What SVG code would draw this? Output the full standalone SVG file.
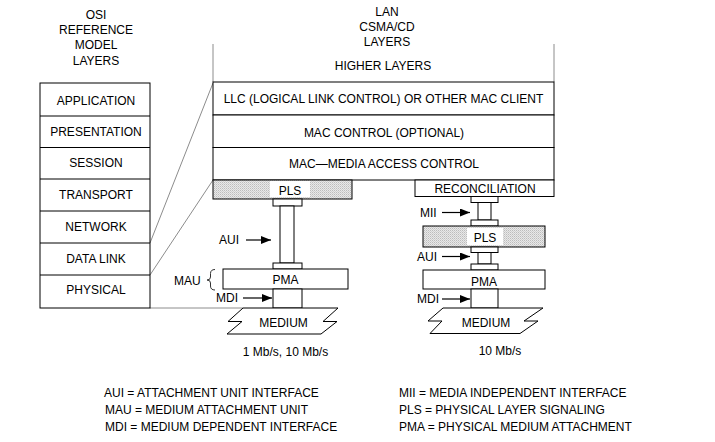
<svg xmlns="http://www.w3.org/2000/svg" width="715" height="442" viewBox="0 0 715 442">
<style>
text{font-family:"Liberation Sans",Arial,sans-serif;font-size:12px;fill:#000}
.c{text-anchor:middle}
.box{fill:#fff;stroke:#000;stroke-width:1}
.shade{fill:url(#dots);stroke:#000;stroke-width:1}
.map{stroke:#8c8c8c;stroke-width:1;fill:none}
.ln{stroke:#000;stroke-width:1;fill:none}
.arr{stroke:#000;stroke-width:1.2;fill:none;marker-end:url(#ah)}
</style>
<defs>
<pattern id="dots" width="2" height="2" patternUnits="userSpaceOnUse">
<rect width="2" height="2" fill="#e8e8e8"/>
<rect width="1" height="1" fill="#bcbcbc"/>
<rect x="1" y="1" width="1" height="1" fill="#d0d0d0"/>
</pattern>
<marker id="ah" markerWidth="10" markerHeight="8" refX="10" refY="4" orient="auto" markerUnits="userSpaceOnUse">
<path d="M0,0 L10,4 L0,8 Z" fill="#000"/>
</marker>
</defs>
<rect width="715" height="442" fill="#fff"/>

<g id="osi-header">
<text class="c" x="96" y="18.5">OSI</text>
<text class="c" x="96" y="34">REFERENCE</text>
<text class="c" x="96" y="49">MODEL</text>
<text class="c" x="96" y="64.5">LAYERS</text>
</g>
<g id="lan-header">
<text class="c" x="387" y="16">LAN</text>
<text class="c" x="387" y="31">CSMA/CD</text>
<text class="c" x="387" y="46">LAYERS</text>
</g>

<g id="connectors">
<path class="map" d="M213,44 V82 M554,44 V82"/>
<path class="map" d="M150,243 L213,83"/>
<path class="map" d="M150,275 L213,180"/>
<path class="map" d="M150,308 H243"/>
<path class="arr" d="M246,240 H271"/>
<path class="arr" d="M243,298 H272"/>
<path class="arr" d="M442,212.5 H470"/>
<path class="arr" d="M442,256.5 H470"/>
<path class="arr" d="M442,299 H470"/>
<path d="M215,269.5 Q210.5,269.5 210.5,273.5 L210.5,277 Q210.5,280 207,280 Q210.5,280 210.5,283 L210.5,286 Q210.5,290 215,290" fill="none" stroke="#333" stroke-width="1"/>
</g>

<g id="osi-stack">
<rect class="box" x="40" y="83" width="110" height="225" stroke-width="1.3"/>
<path class="ln" d="M40,116 H150 M40,147.5 H150 M40,179 H150 M40,211 H150 M40,243 H150 M40,275 H150"/>
</g>
<g id="application"><text class="c" x="96" y="105">APPLICATION</text></g>
<g id="presentation"><text class="c" x="96" y="136">PRESENTATION</text></g>
<g id="session"><text class="c" x="96" y="167">SESSION</text></g>
<g id="transport"><text class="c" x="96" y="199.3">TRANSPORT</text></g>
<g id="network"><text class="c" x="96" y="231">NETWORK</text></g>
<g id="datalink"><text class="c" x="96" y="262.6">DATA LINK</text></g>
<g id="physical"><text class="c" x="96" y="294.3">PHYSICAL</text></g>

<g id="higher-layers"><text class="c" x="383" y="69.6">HIGHER LAYERS</text></g>
<g id="llc">
<rect class="box" x="213" y="82" width="341" height="33"/>
<text class="c" x="383.5" y="103">LLC (LOGICAL LINK CONTROL) OR OTHER MAC CLIENT</text>
</g>
<g id="mac-control">
<rect class="box" x="213" y="115" width="341" height="32.5"/>
<text class="c" x="384" y="137.4">MAC CONTROL (OPTIONAL)</text>
</g>
<g id="mac">
<rect class="box" x="213" y="147.5" width="341" height="32.5"/>
<text class="c" x="384" y="167.6">MAC—MEDIA ACCESS CONTROL</text>
</g>

<g id="pls-left">
<rect class="shade" x="213" y="180" width="139" height="19"/>
<rect x="270" y="181" width="40" height="16" fill="#fff"/>
<text class="c" x="290" y="195">PLS</text>
</g>
<g id="aui-left">
<rect class="box" x="273" y="199" width="29" height="7"/>
<rect class="box" x="280" y="206" width="14" height="57" stroke-width="1.3"/>
<rect class="box" x="273" y="263" width="29" height="6"/>
<text x="219" y="244.3">AUI</text>
</g>
<g id="mau-label"><text x="174" y="284.5">MAU</text></g>
<g id="pma-left">
<rect class="box" x="223" y="269" width="125" height="20"/>
<text class="c" x="285.5" y="284.3">PMA</text>
</g>
<g id="mdi-left">
<rect class="box" x="273" y="289" width="29" height="19"/>
<text x="216" y="302.3">MDI</text>
</g>
<g id="medium-left">
<path class="box" d="M243,308 L228,321.5 L242,321.5 L227,334 L321,334 L337,321.5 L323,321.5 L338,308 Z"/>
<text class="c" x="283.5" y="327">MEDIUM</text>
<text class="c" x="285.5" y="356">1 Mb/s, 10 Mb/s</text>
</g>

<g id="reconciliation">
<rect class="box" x="415" y="180" width="139" height="16.5"/>
<text class="c" x="485" y="192.6">RECONCILIATION</text>
</g>
<g id="mii">
<rect class="box" x="471" y="196.5" width="27" height="6"/>
<rect class="box" x="478" y="202.5" width="13" height="17.5"/>
<rect class="box" x="471" y="220" width="27" height="6"/>
<text x="420" y="217">MII</text>
</g>
<g id="pls-right">
<rect class="shade" x="423" y="226" width="122" height="21"/>
<rect x="467" y="228" width="36" height="17" fill="#fff"/>
<text class="c" x="485" y="242">PLS</text>
</g>
<g id="aui-right">
<rect class="box" x="471" y="247" width="27" height="5.5"/>
<rect class="box" x="478" y="252.5" width="13" height="11.5"/>
<rect class="box" x="471" y="264" width="27" height="6"/>
<text x="417" y="260.5">AUI</text>
</g>
<g id="pma-right">
<rect class="box" x="423" y="270" width="122" height="19"/>
<text class="c" x="484" y="285.5">PMA</text>
</g>
<g id="mdi-right">
<rect class="box" x="471" y="289" width="27" height="19"/>
<text x="417" y="303.3">MDI</text>
</g>
<g id="medium-right">
<path class="box" d="M443,308 L428,321 L442,321 L430,333.5 L520,333.5 L538,321 L524,321 L543,308 Z"/>
<text class="c" x="486" y="326.5">MEDIUM</text>
<text class="c" x="500" y="355">10 Mb/s</text>
</g>

<g id="legend">
<text x="104" y="396.5">AUI = ATTACHMENT UNIT INTERFACE</text>
<text x="105" y="414">MAU = MEDIUM ATTACHMENT UNIT</text>
<text x="105" y="431">MDI = MEDIUM DEPENDENT INTERFACE</text>
<text x="399" y="396.5">MII = MEDIA INDEPENDENT INTERFACE</text>
<text x="399" y="413.5">PLS = PHYSICAL LAYER SIGNALING</text>
<text x="399" y="431">PMA = PHYSICAL MEDIUM ATTACHMENT</text>
</g>
</svg>
